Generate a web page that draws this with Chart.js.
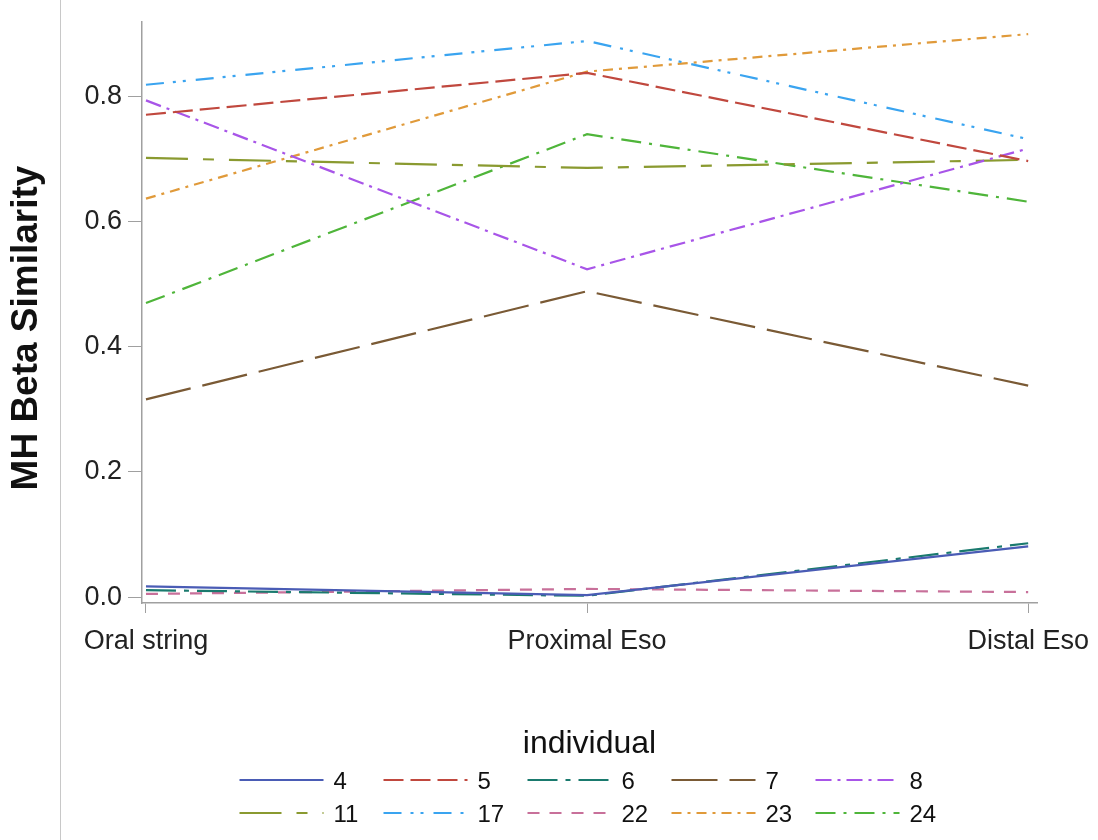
<!DOCTYPE html>
<html>
<head>
<meta charset="utf-8">
<script src="https://cdn.jsdelivr.net/npm/chart.js@4/dist/chart.umd.min.js"></script>
<style>
    html, body { margin: 0; padding: 0; background: #fff; }
    #wrap { position: relative; width: 1098px; height: 840px; }
    #sep { position: absolute; left: 60px; top: 0; width: 0; height: 840px; border-left: 1px solid #c8c8c8; }
</style>
</head>
<body>
<div id="wrap">
    <canvas id="myChart" width="1098" height="840"></canvas>
    <div id="sep"></div>
</div>
<script>
//------------------------Data------------------------
var sites = ["Oral string", "Proximal Eso", "Distal Eso"];
var individuals = ["4", "5", "6", "7", "8", "11", "17", "22", "23", "24"];
var yTicks = [0, 0.2, 0.4, 0.6, 0.8];

var sim4  = [0.017, 0.003, 0.081];
var sim5  = [0.771, 0.838, 0.697];
var sim6  = [0.011, 0.002, 0.086];
var sim7  = [0.316, 0.489, 0.338];
var sim8  = [0.794, 0.524, 0.717];
var sim11 = [0.702, 0.686, 0.699];
var sim17 = [0.819, 0.889, 0.732];
var sim22 = [0.005, 0.013, 0.008];
var sim23 = [0.637, 0.840, 0.900];
var sim24 = [0.470, 0.740, 0.632];

var allSeries = [sim4, sim5, sim6, sim7, sim8, sim11, sim17, sim22, sim23, sim24];

// SAS-like line colours and patterns
var lineColors = ['#4a5cb5', '#c0483e', '#1a7a6e', '#7a5a35', '#a855e8',
                  '#8a9a30', '#3aa4f0', '#c8709a', '#e09a3a', '#4fb53a'];
var lineDashes = [[], [20, 7], [30, 8, 5, 8], [46, 12], [16, 6, 3, 6],
                  [42, 15, 11, 15], [18, 9, 3, 7, 3, 10], [12, 10], [10, 6, 3, 6], [20, 8, 3, 8]];

//------------------------Plugins------------------------
var yTitlePlugin = {
    id: 'yTitle',
    afterDraw: function (chart) {
        var c = chart.ctx;
        c.save();
        c.translate(27, 328);
        c.rotate(-Math.PI / 2);
        c.font = "bold 37px 'Liberation Sans', Arial, sans-serif";
        c.fillStyle = '#111';
        c.textAlign = 'center';
        c.textBaseline = 'middle';
        c.fillText('MH Beta Similarity', 0, 0);
        c.restore();
    }
};

var legendPlugin = {
    id: 'sasLegend',
    afterDraw: function (chart) {
        var c = chart.ctx;
        var cx = (chart.chartArea.left + chart.chartArea.right) / 2;
        c.save();
        c.fillStyle = '#111';
        c.font = "32px 'Liberation Sans', Arial, sans-serif";
        c.textAlign = 'center';
        c.textBaseline = 'alphabetic';
        c.fillText('individual', cx, 753);

        c.font = "24px 'Liberation Sans', Arial, sans-serif";
        c.textAlign = 'left';
        var colW = 144;
        var left = cx - 350;
        chart.data.datasets.forEach(function (ds, i) {
            var col = i % 5;
            var row = Math.floor(i / 5);
            var x = left + col * colW;
            var y = 780 + row * 33;
            c.beginPath();
            c.setLineDash(ds.borderDash);
            c.strokeStyle = ds.borderColor;
            c.lineWidth = 2;
            c.moveTo(x, y);
            c.lineTo(x + 84, y);
            c.stroke();
            c.setLineDash([]);
            c.fillText(ds.label, x + 94, y + 9);
        });
        c.restore();
    }
};

//------------------------Chart------------------------
var ctx = document.getElementById("myChart").getContext('2d');
var datasets = [];
for (var i = 0; i < individuals.length; i++) {
    datasets.push({
        label: individuals[i],
        data: allSeries[i].map(function (v, k) { return { x: k, y: v }; }),
        borderColor: lineColors[i],
        borderDash: lineDashes[i],
        borderWidth: 2.2,
        pointRadius: 0,
        fill: false,
        tension: 0
    });
}

var myChart = new Chart(ctx, {
    type: 'line',
    data: { datasets: datasets },
    plugins: [yTitlePlugin, legendPlugin],
    options: {
        responsive: false,
        animation: false,
        layout: { padding: { left: 0, top: 18, right: 61, bottom: 177 } },
        plugins: {
            legend: { display: false },
            tooltip: { enabled: false }
        },
        scales: {
            x: {
                type: 'linear',
                min: -0.009,
                max: 2.02,
                afterBuildTicks: function (scale) {
                    scale.ticks = sites.map(function (s, k) { return { value: k }; });
                },
                afterFit: function (scale) {
                    scale.height = 60;
                    scale.paddingLeft = 0;
                    scale.paddingRight = 0;
                },
                ticks: {
                    autoSkip: false,
                    maxRotation: 0,
                    padding: 12,
                    color: '#222',
                    font: { family: "'Liberation Sans', Arial, sans-serif", size: 27 },
                    callback: function (value) { return sites[value]; }
                },
                grid: { drawOnChartArea: false, drawTicks: true, tickLength: 10, color: '#a0a0a0' },
                border: { display: true, color: '#a0a0a0', width: 1.5 }
            },
            y: {
                type: 'linear',
                min: -0.0095,
                max: 0.919,
                afterBuildTicks: function (scale) {
                    scale.ticks = yTicks.map(function (v) { return { value: v }; });
                },
                afterFit: function (scale) { scale.width = 142; },
                ticks: {
                    padding: 6,
                    color: '#222',
                    font: { family: "'Liberation Sans', Arial, sans-serif", size: 27 },
                    callback: function (value) { return value.toFixed(1); }
                },
                grid: { drawOnChartArea: false, drawTicks: true, tickLength: 14, color: '#a0a0a0' },
                border: { display: true, color: '#a0a0a0', width: 1.5 }
            }
        }
    }
});
</script>
</body>
</html>
